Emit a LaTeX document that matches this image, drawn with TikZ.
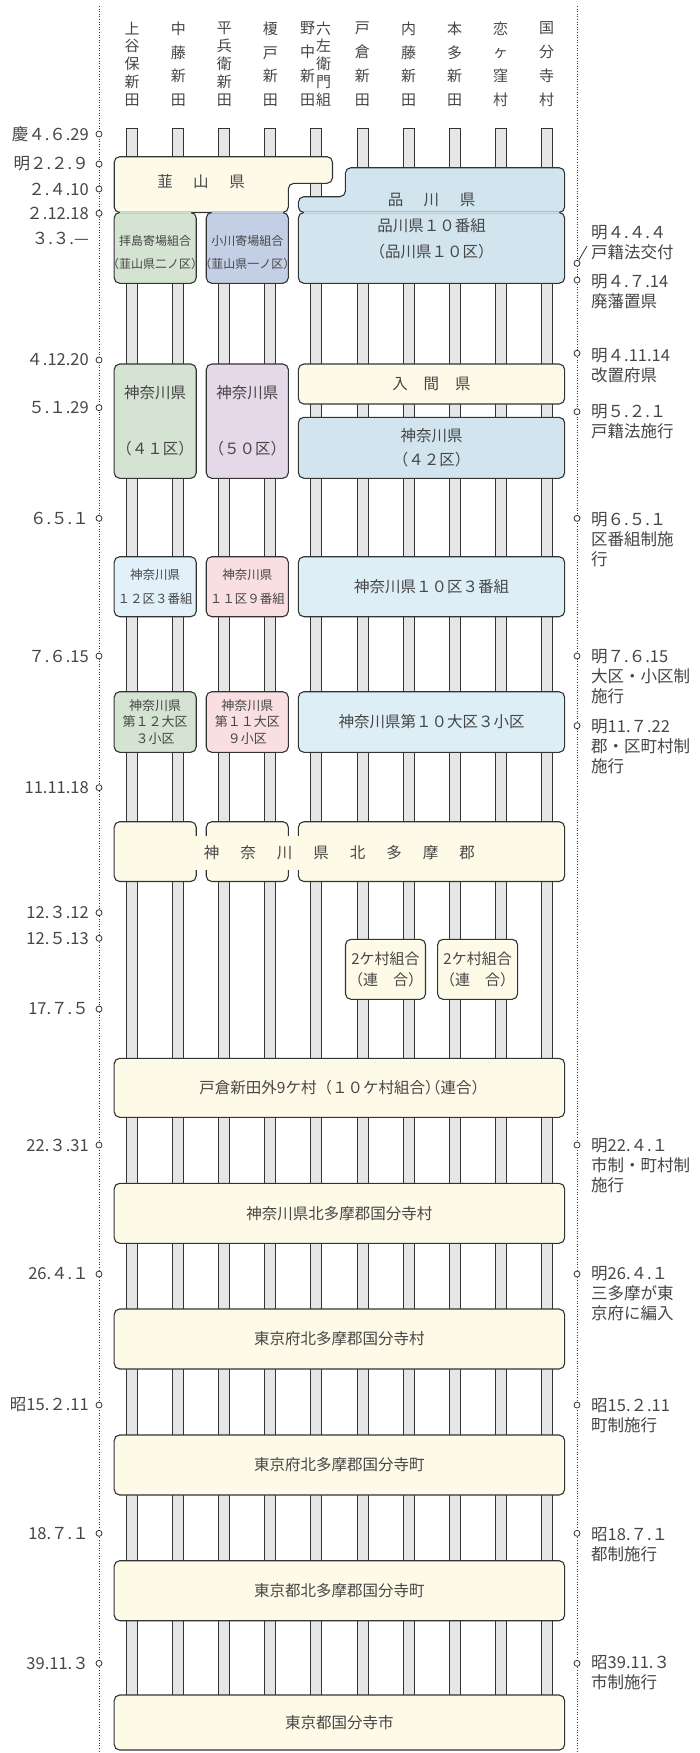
\documentclass[tikz,border=0pt]{standalone}
\usepackage{fontspec}
\newfontfamily\jp{Noto Sans CJK JP}
\newfontfamily\jph{Noto Sans CJK JP}[RawFeature=+halt]
\newcommand\LP{{\jph （}}
\newcommand\RP{{\jph ）}}
\definecolor{ccream}{HTML}{FEFAE8}
\definecolor{cgreen}{HTML}{D5E3D2}
\definecolor{clav}{HTML}{C3CFE4}
\definecolor{csblue}{HTML}{D2E5EE}
\definecolor{clilac}{HTML}{E5D8E9}
\definecolor{clblue}{HTML}{E2F0F9}
\definecolor{cpink}{HTML}{F9DFE1}
\definecolor{cblue}{HTML}{DEEEF7}
\definecolor{barfill}{HTML}{E6E6E6}
\definecolor{ink}{HTML}{333333}
\definecolor{txt}{HTML}{464646}
\tikzset{
  bx/.style={draw=ink, line width=1.1pt, rounded corners=5.5pt, inner sep=0pt, outer sep=0pt},
  barr/.style={draw=ink, fill=barfill, line width=0.9pt},
  dotl/.style={draw=ink, line width=0.8pt, dash pattern=on 1pt off 1.6pt},
  pin/.style={circle, draw=ink, fill=white, line width=0.8pt, minimum size=6pt, inner sep=0pt},
  t/.style={font=\jp\fontsize{15.5}{19}\selectfont, text=txt, inner sep=0pt, align=center},
  ts/.style={font=\jp\fontsize{12.5}{23.3}\selectfont, text=txt, inner sep=0pt, align=center},
  tss/.style={font=\jp\fontsize{12}{23.3}\selectfont, text=txt, inner sep=0pt, align=center},
  lab/.style={font=\jp\fontsize{16.5}{20}\selectfont, text=txt, inner sep=0pt, align=left},
  hd/.style={font=\jp\fontsize{15}{23.9}\selectfont, text=txt, inner sep=0pt, align=center},
  hdf/.style={font=\jp\fontsize{15}{17.9}\selectfont, text=txt, inner sep=0pt, align=center},
}
\begin{document}
\begin{tikzpicture}[x=1pt,y=-1pt]
\useasboundingbox[fill=white] (0,0) rectangle (699,1753);

% dotted time axes
\coordinate (LT) at (99,6); \coordinate (LB) at (99,1753);
\coordinate (RT) at (577,6); \coordinate (RB) at (577,1753);
\draw[dotl] (LT) -- (LB);
\draw[dotl] (RT) -- (RB);

% village bars
\foreach \i in {0,...,9}{
  \pgfmathsetmacro\cx{132.2+46.05*\i}
  \draw[barr] (\cx-5.5,128.5) rectangle (\cx+5.5,1700);
}

% column headers
\node[hdf] (h0) at (132.2,64.2) {上\\谷\\保\\新\\田};
\node[hd] (h1) at (178.25,64.2) {中\\藤\\新\\田};
\node[hdf] (h2) at (224.3,64.2) {平\\兵\\衛\\新\\田};
\node[hd] (h3) at (270.35,64.2) {榎\\戸\\新\\田};
\node[hd] (h4a) at (307.5,64.2) {野\\中\\新\\田};
\node[hdf] (h4b) at (323.5,64.2) {六\\左\\衛\\門\\組};
\node[hd] (h5) at (362.45,64.2) {戸\\倉\\新\\田};
\node[hd] (h6) at (408.5,64.2) {内\\藤\\新\\田};
\node[hd] (h7) at (454.55,64.2) {本\\多\\新\\田};
\node[hd] (h8) at (500.6,64.2) {恋\\ヶ\\窪\\村};
\node[hd] (h9) at (546.65,64.2) {国\\分\\寺\\村};

% Nirayama / Shinagawa
\path[bx, fill=ccream] (114.2,156.7) -- (332.5,156.7) -- (332.5,183.3) -- (288.35,183.3) -- (288.35,212.5) -- (114.2,212.5) -- cycle;
\path[bx, fill=csblue] (345.4,167.7) -- (564.65,167.7) -- (564.65,212.5) -- (298.4,212.5) -- (298.4,196.7) -- (345.4,196.7) -- cycle;
\node[bx, fill=cgreen, minimum width=82.05pt, minimum height=70.8pt] (haijima) at (155.2,247.9) {};
\node[bx, fill=clav, minimum width=82.05pt, minimum height=70.8pt] (ogawa) at (247.3,247.9) {};
\node[bx, fill=csblue, minimum width=266.25pt, minimum height=70.8pt] (shina) at (431.5,247.9) {};
\fill[cgreen] (119.9,211.6) rectangle (190.55,213.4);
\fill[clav] (212.0,211.6) rectangle (282.65,213.4);
\fill[csblue] (304.1,211.6) rectangle (558.95,213.4);
\node[t] (nira) at (201,181.7) {韮\hspace{20.5pt}山\hspace{20.5pt}県};
\node[t] (shinat) at (431.5,200) {品\hspace{20.5pt}川\hspace{20.5pt}県};
\node[t] (shina10) at (431.5,226) {品川県１０番組};
\node[t] (shina10k) at (431.5,252) {\LP 品川県１０区\RP};
\node[tss] (haijimat) at (155.2,252.3) {拝島寄場組合\\\LP 韮山県二ノ区\RP};
\node[tss] (ogawat) at (247.3,252.3) {小川寄場組合\\\LP 韮山県一ノ区\RP};

% Kanagawa / Iruma
\node[bx, fill=cgreen, minimum width=82.05pt, minimum height=114.3pt, t, font=\jp\fontsize{15.5}{56}\selectfont] (k41) at (155.2,421.15) {神奈川県\\\LP ４１区\RP};
\node[bx, fill=clilac, minimum width=82.05pt, minimum height=114.3pt, t, font=\jp\fontsize{15.5}{56}\selectfont] (k50) at (247.3,421.15) {神奈川県\\\LP ５０区\RP};
\node[bx, fill=ccream, minimum width=266.25pt, minimum height=40pt, t] (iruma) at (431.5,384) {入\hspace{15.8pt}間\hspace{15.8pt}県};
\node[bx, fill=csblue, minimum width=266.25pt, minimum height=61pt, t, font=\jp\fontsize{15.5}{23.3}\selectfont] (k42) at (431.5,447.8) {神奈川県\\\LP ４２区\RP};

% ku-bangumi
\node[bx, fill=clblue, minimum width=82.05pt, minimum height=60pt, ts] (k12) at (155.2,586.7) {神奈川県\\１２区３番組};
\node[bx, fill=cpink, minimum width=82.05pt, minimum height=60pt, ts] (k11) at (247.3,586.7) {神奈川県\\１１区９番組};
\node[bx, fill=cblue, minimum width=266.25pt, minimum height=60pt, t] (k10) at (431.5,586.7) {神奈川県１０区３番組};

% daiku-shoku
\node[bx, fill=cgreen, minimum width=82.05pt, minimum height=60.6pt, ts, font=\jp\fontsize{13}{16.2}\selectfont] (d12) at (155.2,722) {神奈川県\\第１２大区\\３小区};
\node[bx, fill=cpink, minimum width=82.05pt, minimum height=60.6pt, ts, font=\jp\fontsize{13}{16.2}\selectfont] (d11) at (247.3,722) {神奈川県\\第１１大区\\９小区};
\node[bx, fill=cblue, minimum width=266.25pt, minimum height=60.6pt, t] (d10) at (431.5,722) {神奈川県第１０大区３小区};

% Kitatama-gun
\node[bx, fill=ccream, minimum width=82.05pt, minimum height=59.8pt] (kt1) at (155.2,851.6) {};
\node[bx, fill=ccream, minimum width=82.05pt, minimum height=59.8pt] (kt2) at (247.3,851.6) {};
\node[bx, fill=ccream, minimum width=266.25pt, minimum height=59.8pt] (kt3) at (431.5,851.6) {};
\fill[ccream] (195.2,836) rectangle (207.35,870);
\fill[ccream] (287.3,836) rectangle (299.45,870);
\node[t] (ktt) at (339.4,852.3) {神\hspace{21pt}奈\hspace{21pt}川\hspace{21pt}県\hspace{21pt}北\hspace{21pt}多\hspace{21pt}摩\hspace{21pt}郡};

% 2-village unions
\node[bx, fill=ccream, minimum width=80.05pt, minimum height=60pt, t, font=\jp\fontsize{15}{20.7}\selectfont] (m1) at (385.5,969.3) {2ケ村組合\\\LP 連　合\RP};
\node[bx, fill=ccream, minimum width=80.05pt, minimum height=60pt, t, font=\jp\fontsize{15}{20.7}\selectfont] (m2) at (477.6,969.3) {2ケ村組合\\\LP 連　合\RP};

% full-width stages
\node[bx, fill=ccream, minimum width=450.45pt, minimum height=59pt, t] (f1) at (339.4,1087.8) {戸倉新田外9ケ村（１０ケ村組合\RP\LP 連合\RP};
\node[bx, fill=ccream, minimum width=450.45pt, minimum height=60pt, t] (f2) at (339.4,1213.3) {神奈川県北多摩郡国分寺村};
\node[bx, fill=ccream, minimum width=450.45pt, minimum height=60pt, t] (f3) at (339.4,1339) {東京府北多摩郡国分寺村};
\node[bx, fill=ccream, minimum width=450.45pt, minimum height=60pt, t] (f4) at (339.4,1465) {東京府北多摩郡国分寺町};
\node[bx, fill=ccream, minimum width=450.45pt, minimum height=60pt, t] (f5) at (339.4,1590.7) {東京都北多摩郡国分寺町};
\node[bx, fill=ccream, minimum width=450.45pt, minimum height=55pt, t] (f6) at (339.4,1722.5) {東京都国分寺市};

% left dates
\foreach \n/\y/\s in {l1/134/慶４.６.29, l2/164/明２.２.９, l3/189/２.４.10, l4/213.3/２.12.18,
  l6/360/４.12.20, l7/407.7/５.１.29, l8/518.3/６.５.１, l9/656/７.６.15, l10/787.7/11.11.18,
  l11/912.7/12.３.12, l12/938.3/12.５.13, l13/1009/17.７.５, l14/1145/22.３.31, l15/1274/26.４.１,
  l16/1405/昭15.２.11, l17/1533.3/18.７.１, l18/1663.3/39.11.３}{
  \node[pin] (\n c) at (99,\y) {};
  \node[lab, anchor=east] (\n t) at (89,\y) {\s};
}
\node[lab, anchor=east] (l5t) at (89,238.3) {３.３.—};

% right events
\node[pin] (r1) at (577,263.3) {};
\node[lab, anchor=north west] (r1t) at (591,224.8) {明４.４.４\\戸籍法交付};
\coordinate (s1) at (587,246);
\draw[ink, line width=0.8pt] (r1.60) -- (s1);
\node[pin] (r2) at (577,280) {};
\node[lab, anchor=north west] (r2t) at (591,273.8) {明４.７.14\\廃藩置県};
\node[pin] (r3) at (577,353.3) {};
\node[lab, anchor=north west] (r3t) at (591,347.8) {明４.11.14\\改置府県};
\node[pin] (r4) at (577,411.7) {};
\node[lab, anchor=north west] (r4t) at (591,404.5) {明５.２.１\\戸籍法施行};
\node[pin] (r5) at (577,518.3) {};
\node[lab, anchor=north west] (r5t) at (591,511.8) {明６.５.１\\区番組制施\\行};
\node[pin] (r6) at (577,656) {};
\node[lab, anchor=north west] (r6t) at (591,649.1) {明７.６.15\\大区・小区制\\施行};
\node[pin] (r7) at (577,725.7) {};
\node[lab, anchor=north west] (r7t) at (591,719.5) {明11.７.22\\郡・区町村制\\施行};
\node[pin] (r8) at (577,1145) {};
\node[lab, anchor=north west] (r8t) at (591,1138.5) {明22.４.１\\市制・町村制\\施行};
\node[pin] (r9) at (577,1274) {};
\node[lab, anchor=north west] (r9t) at (591,1265.8) {明26.４.１\\三多摩が東\\京府に編入};
\node[pin] (r10) at (577,1405) {};
\node[lab, anchor=north west] (r10t) at (591,1398.5) {昭15.２.11\\町制施行};
\node[pin] (r11) at (577,1533.3) {};
\node[lab, anchor=north west] (r11t) at (591,1526.8) {昭18.７.１\\都制施行};
\node[pin] (r12) at (577,1663.3) {};
\node[lab, anchor=north west] (r12t) at (591,1655.1) {昭39.11.３\\市制施行};
\end{tikzpicture}
\end{document}
